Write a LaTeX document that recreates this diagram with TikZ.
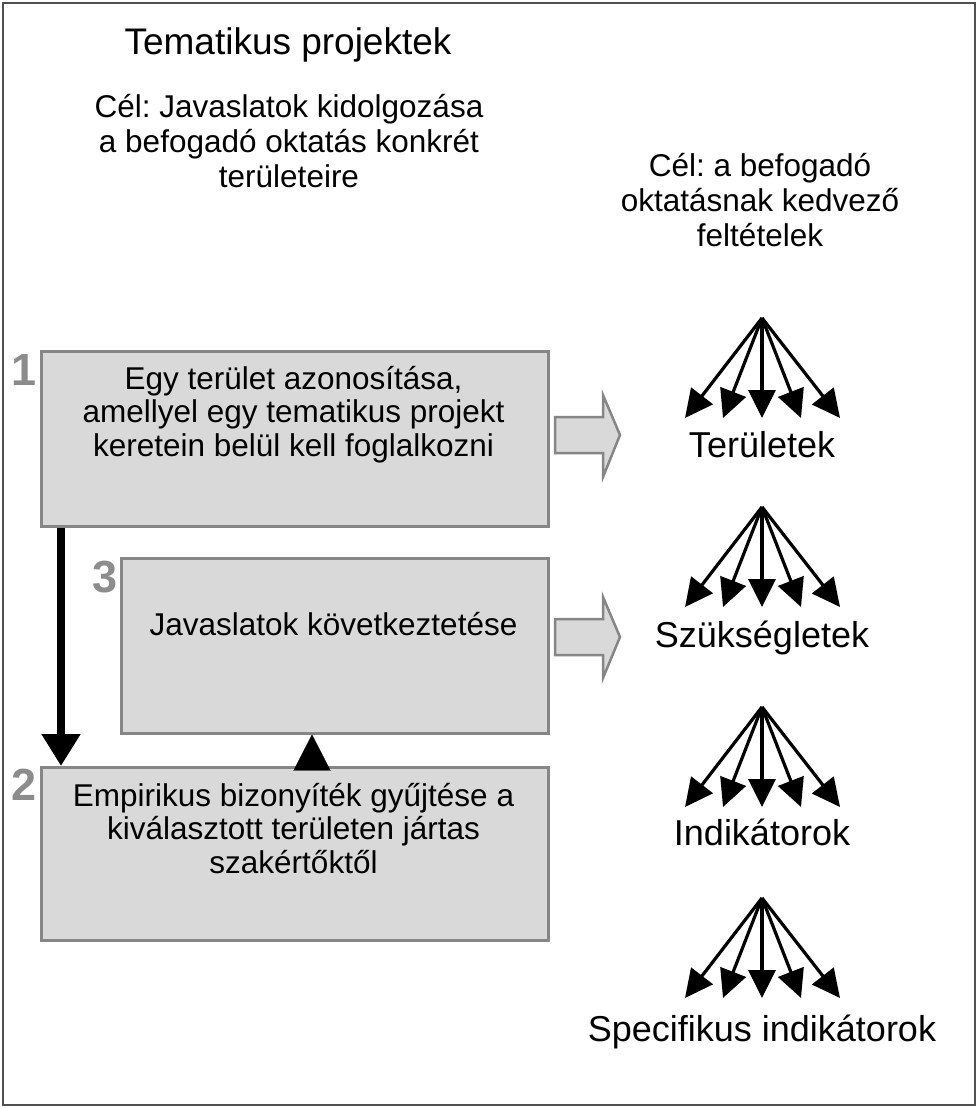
\documentclass[tikz,border=0pt]{standalone}
\usepackage{fontspec}
\setmainfont{Liberation Sans}
\usetikzlibrary{arrows.meta}
\definecolor{boxfill}{HTML}{D9D9D9}
\definecolor{boxline}{HTML}{868686}
\definecolor{numgray}{HTML}{8C8C8C}
\definecolor{frameline}{HTML}{505050}
\frenchspacing
\begin{document}
\begin{tikzpicture}[x=1pt,y=-1pt,
  boxstyle/.style={draw=boxline, fill=boxfill, line width=2.5pt, inner sep=0pt, anchor=north west},
  boxtext/.style={align=center, inner sep=0pt, anchor=base, font=\fontsize{31.5}{33.5}\selectfont},
  headtext/.style={align=center, inner sep=0pt, anchor=base, font=\fontsize{31.5}{35}\selectfont},
  titletext/.style={inner sep=0pt, anchor=base, font=\fontsize{37}{42}\selectfont},
  fanlabel/.style={inner sep=0pt, anchor=base, font=\fontsize{36}{40}\selectfont},
  numtext/.style={inner sep=0pt, anchor=base, text=numgray, font=\fontsize{45}{50}\selectfont\bfseries},
  fanarrow/.style={line width=3.2pt, -{Triangle[length=28pt,width=27pt]}},
  bigarrow/.style={line width=8pt, -{Triangle[length=32pt,width=37pt]}},
  blockarrow/.style={draw=boxline, fill=boxfill, line width=2.5pt, line join=miter},
]
\useasboundingbox (0,0) rectangle (978,1108);
\draw[frameline, line width=2.5pt] (3,3) rectangle (975,1105);

% titles (base anchor = baseline of the last line)
\node[titletext] (title) at (288,55) {Tematikus projektek};
\node[headtext] (goal1) at (289,187) {Cél: Javaslatok kidolgozása\\a befogadó oktatás konkrét\\területeire};
\node[headtext] (goal2) at (760,246) {Cél: a befogadó\\oktatásnak kedvező\\feltételek};

% boxes
\node[boxstyle, minimum width=507pt, minimum height=175pt] (b1) at (40,350) {};
\node[boxstyle, minimum width=427pt, minimum height=175pt] (b3) at (120,557) {};
\node[boxstyle, minimum width=507pt, minimum height=173pt] (b2) at (40,766) {};

\node[boxtext] (t1) at (293.5,456) {Egy terület azonosítása,\\amellyel egy tematikus projekt\\keretein belül kell foglalkozni};
\node[boxtext] (t3) at (333.5,635) {Javaslatok következtetése};
\node[boxtext] (t2) at (293.5,873) {Empirikus bizonyíték gyűjtése a\\kiválasztott területen jártas\\szakértőktől};

\node[numtext] (n1) at (24,385) {1};
\node[numtext] (n3) at (105,592) {3};
\node[numtext] (n2) at (24,800) {2};

% vertical arrows
\coordinate (vx) at (61,0);
\coordinate (ux) at (312,0);
\draw[bigarrow] (b1.south -| vx) -- (b2.north -| vx);
\draw[line width=0.1pt, -{Triangle[length=36pt,width=37pt]}] (b2.north -| ux) -- (b3.south -| ux);

% block arrows
\draw[blockarrow] (555,417) -- (603,417) -- (603,395) -- (620,435) -- (603,477) -- (603,453) -- (555,453) -- cycle;
\draw[blockarrow] (555,619) -- (603,619) -- (603,597) -- (620,637) -- (603,678) -- (603,655) -- (555,655) -- cycle;

% fans
\coordinate (f1) at (762,318);
\coordinate (f2) at (762,507);
\coordinate (f3) at (762,707);
\coordinate (f4) at (762,898);
\foreach \f in {f1,f2,f3,f4}{
  \foreach \dx [count=\k] in {-77,-39,0,39,78}{
    \path (\f) ++(\dx,100) coordinate (\f-\k);
    \draw[fanarrow] (\f) -- (\f-\k);
  }
}
\node[fanlabel] (l1) at (762,457) {Területek};
\node[fanlabel] (l2) at (762,647) {Szükségletek};
\node[fanlabel] (l3) at (762,845) {Indikátorok};
\node[fanlabel] (l4) at (762,1041) {Specifikus indikátorok};
\end{tikzpicture}
\end{document}
